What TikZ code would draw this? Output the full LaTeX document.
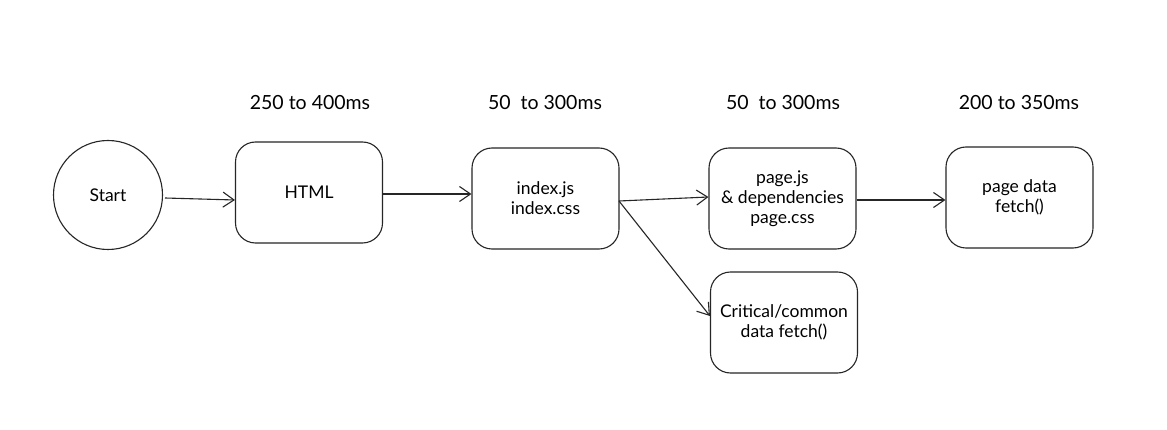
\documentclass[tikz,border=0pt]{standalone}
\usepackage{fontspec}
\setmainfont{Lato}
\usetikzlibrary{arrows.meta}
\tikzset{
  box/.style={draw=black!85, line width=1.1pt, rounded corners=20pt, minimum width=147pt, minimum height=101pt, inner sep=0pt, align=center, font=\fontsize{17.5}{20}\selectfont},
  startc/.style={draw=black!85, line width=1.1pt, circle, minimum size=109pt, inner sep=0pt, font=\fontsize{17.5}{20}\selectfont},
  lbl/.style={font=\fontsize{19.5}{22}\selectfont},
  conn/.style={draw=black!85, line width=1.1pt, -{Straight Barb[length=11pt,width=15pt,line width=1.1pt]}}
}
\begin{document}
\begin{tikzpicture}[x=1pt,y=-1pt]
\useasboundingbox[fill=white] (0,0) rectangle (1167,430);
\node[startc] (start) at (108,195) {Start};
\node[box] (html) at (309,192.5) {HTML};
\node[box] (index) at (545.5,198.5) {index.js\\index.css};
\node[box] (page) at (782.5,198.5) {page.js\\\& dependencies\\page.css};
\node[box] (data) at (1019.5,197.5) {page data\\fetch()};
\node[box] (crit) at (784,322.5) {Critical/common\\data fetch()};
\node[lbl] (l1) at (310,103) {250 to 400ms};
\node[lbl] (l2) at (545,103) {50\ \ to 300ms};
\node[lbl] (l3) at (783,103) {50\ \ to 300ms};
\node[lbl] (l4) at (1019,103) {200 to 350ms};
\coordinate (s1) at (165,198);
\coordinate (fork) at (619,201);
\draw[conn] (s1) -- (html.west |- 0,200);
\draw[conn] (html.east |- 0,194) -- (index.west |- 0,194);
\draw[conn] (fork) -- (page.west |- 0,197);
\draw[conn] (page.east |- 0,200) -- (data.west |- 0,200);
\draw[conn] (fork) -- (crit.west |- 0,316);
\end{tikzpicture}
\end{document}
